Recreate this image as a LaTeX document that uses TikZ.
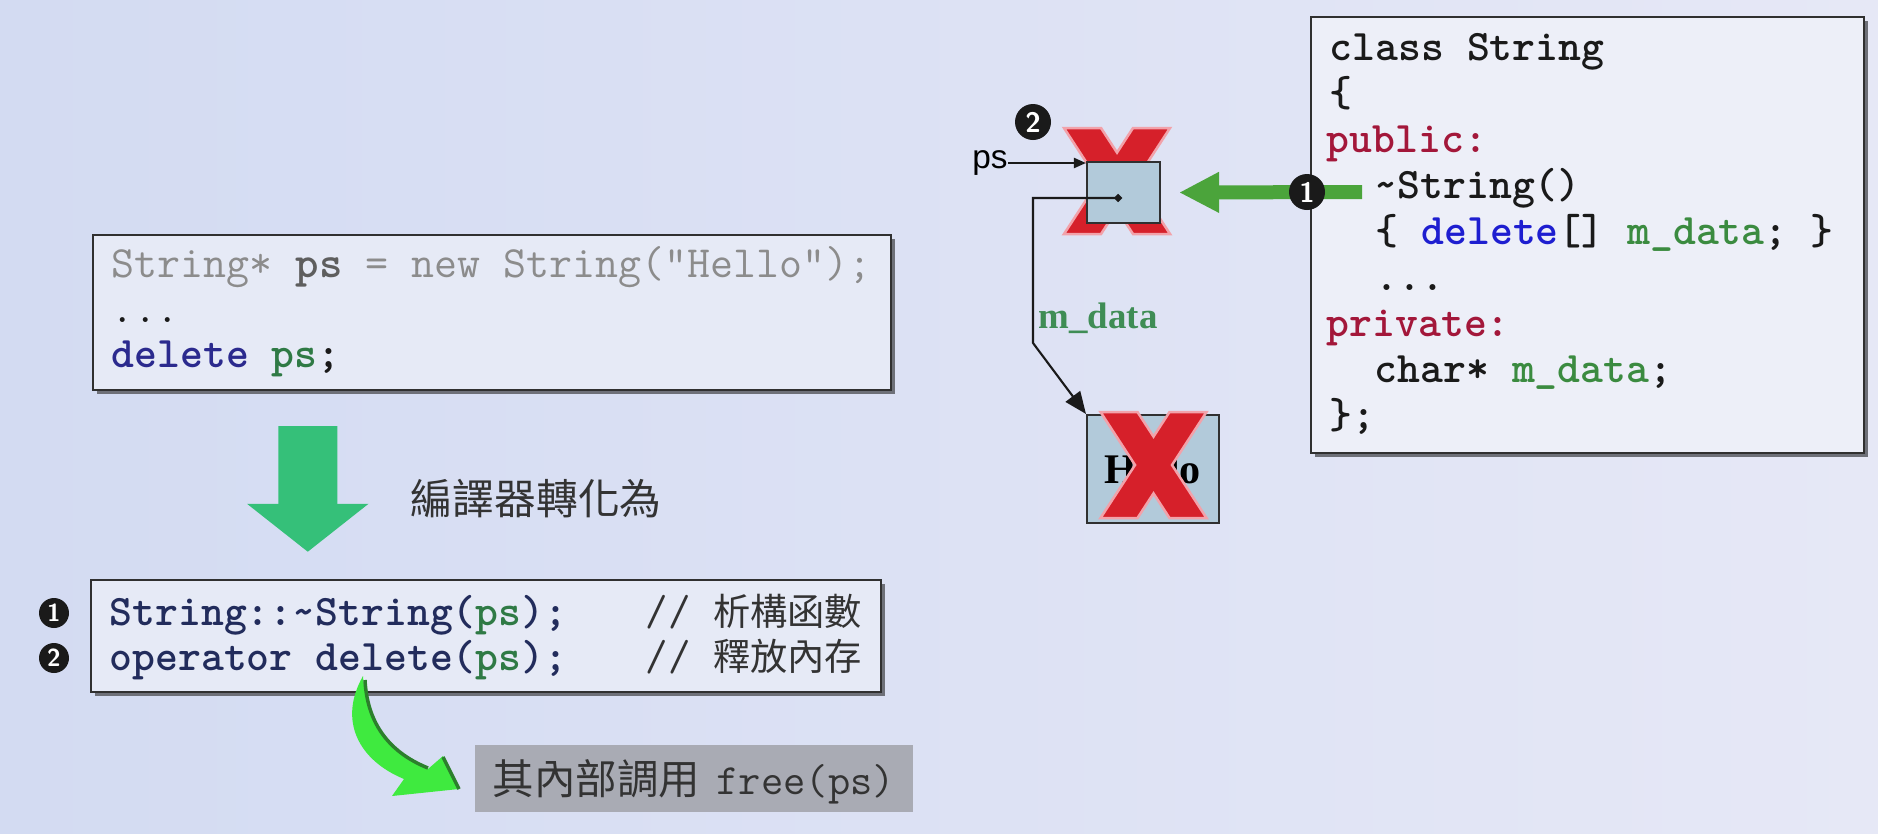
\documentclass[tikz,border=0pt]{standalone}
\usepackage{fontspec}
\usepackage{xcolor}
\usepackage{tikz}
\usetikzlibrary{positioning,arrows.meta,calc,shadows}
\newfontfamily\cjk{Noto Sans CJK TC}
\newfontfamily\timesb{Liberation Serif}
\newfontfamily\arial{Liberation Sans}
\definecolor{bgl}      {HTML}{D3DBF2}
\definecolor{bgm}      {HTML}{E7ECF8}
\definecolor{bgr}      {HTML}{E6E8F6}
\definecolor{boxbg}    {HTML}{E6EAF6}
\definecolor{boxbgr}   {HTML}{EDEFF8}
\definecolor{framec}   {HTML}{303030}
\definecolor{shadowc}  {HTML}{6E7078}
\definecolor{ink}      {HTML}{1A1A1A}
\definecolor{graytxt}  {HTML}{8C8C8C}
\definecolor{graybold} {HTML}{5E5E5E}
\definecolor{kwblue}   {HTML}{2B2A8E}
\definecolor{fnnavy}   {HTML}{222C5C}
\definecolor{codegreen}{HTML}{2F7A45}
\definecolor{crimson}  {HTML}{A3173A}
\definecolor{brblue}   {HTML}{1E1ED0}
\definecolor{mgreen}   {HTML}{3B8B40}
\definecolor{lblgreen} {HTML}{3F8D55}
\definecolor{xred}     {HTML}{D6202A}
\definecolor{xpink}    {HTML}{F2A2AA}
\definecolor{cellblue} {HTML}{B2CADA}
\definecolor{downgreen}{HTML}{35C079}
\definecolor{leftgreen}{HTML}{4BA43B}
\definecolor{swoosh}   {HTML}{3FEA3F}
\definecolor{swooshdk} {HTML}{2C7F2C}
\definecolor{freegray} {HTML}{A9ABB4}
\definecolor{cjkgray}  {HTML}{333333}
\tikzset{
  codebox/.style = {draw=framec, fill=boxbg, line width=0.7pt, inner sep=0pt,
                    drop shadow={shadow xshift=0.4mm, shadow yshift=-0.4mm,
                                 fill=shadowc, opacity=1}},
  code/.style    = {anchor=base west, inner sep=0pt, text=ink,
                    font=\fontsize{12.4}{14}\selectfont\ttfamily},
  codeb/.style   = {code, font=\fontsize{12.4}{14}\selectfont\ttfamily\bfseries},
  cmt/.style     = {code, text=cjkgray},
  num/.style     = {circle, fill=ink, text=white, inner sep=0pt, minimum size=3.0mm,
                    font=\sffamily\bfseries\scriptsize},
  cell/.style    = {draw=framec, fill=cellblue, line width=0.6pt, inner sep=0pt},
  ptr/.style     = {draw=ink, line width=0.6pt, -{Triangle[length=2.2mm, width=1.8mm]}},
  thinptr/.style = {draw=ink, line width=0.6pt, -{Triangle[length=1.2mm, width=1.0mm]}},
  bigdown/.style = {draw=downgreen, line width=5.9mm, -{Triangle[length=4.8mm, width=11.9mm]}},
  grarrow/.style = {draw=leftgreen, line width=1.4mm, -{Triangle[length=4mm, width=3.8mm]}},
  cjklbl/.style  = {anchor=base west, inner sep=0pt, text=cjkgray},
  redx/.pic = {
    \fill[xred, draw=xpink, line width=0.25mm]
      (-53,-53) -- (-16,-53) -- (0,-28.4) -- (16,-53) -- (53,-53) -- (18.5,0)
      -- (53,53) -- (16,53) -- (0,28.4) -- (-16,53) -- (-53,53) -- (-18.5,0) -- cycle;
  },
}

\begin{document}
\begin{tikzpicture}[x=0.1mm, y=-0.1mm]
  \useasboundingbox (0,0) rectangle (1878,833);
  \shade[left color=bgl, middle color=bgm, right color=bgr] (0,0) rectangle (1878,833);

  % source snippet
  \node[codebox, minimum width=79.8mm, minimum height=15.5mm] (src) at (492,312.5) {};
  \node[code, text=graytxt, font=\fontsize{12.7}{14}\selectfont\ttfamily] (src1) at (111,277) {String* {\bfseries\color{graybold}ps} = new String("Hello");};
  \node[code] (src2) at (111,322) {...};
  \node[codeb] (src3) at (111,367) {{\color{kwblue}delete} {\color{codegreen}ps};};

  % what the compiler makes of it
  \node[codebox, minimum width=79.0mm, minimum height=11.2mm] (calls) at (486,636) {};
  \draw[bigdown] ([xshift=21.6mm,yshift=-3.5mm]src.south west) -- ([xshift=21.8mm,yshift=2.7mm]calls.north west);
  \node[cjklbl, font=\cjk\fontsize{11.9}{14}\selectfont] (conv) at (410,514) {編譯器轉化為};
  \node[codeb, text=fnnavy] (call1) at (109,625) {String::\textasciitilde String({\color{codegreen}ps});};
  \node[codeb, text=fnnavy] (call2) at (109,670) {operator delete({\color{codegreen}ps});};
  \node[cmt] (cmt1) at (645,625) {// {\cjk\fontsize{10.6}{13}\selectfont 析構函數}};
  \node[cmt] (cmt2) at (645,670) {// {\cjk\fontsize{10.6}{13}\selectfont 釋放內存}};
  \node[num] (n1) at (54,613) {1};
  \node[num] (n2) at (54,658) {2};

  % free()
  \node[fill=freegray, minimum width=43.8mm, minimum height=6.7mm, inner sep=0pt] (freebox) at (694,778.5) {};
  \node[cjklbl, font=\cjk\fontsize{11.8}{14}\selectfont] (freecjk) at (492,794) {其內部調用};
  \node[code, text=cjkgray, font=\fontsize{12.3}{14}\selectfont\ttfamily] (freecall) at (716,794) {free(ps)};
  \fill[swoosh] (363,676) .. controls (366,720) and (385,752) .. (428,769)
    -- (443,756) -- (459,789) -- (392,796) -- (404,779)
    .. controls (358,760) and (338,720) .. (363,676) -- cycle;
  \draw[swooshdk, line width=0.35mm] (365,680) .. controls (367,720) and (386,751) .. (428,768);
  \draw[swooshdk, line width=0.35mm] (443,757) -- (459,789);

  % class String
  \node[codebox, fill=boxbgr, minimum width=55.3mm, minimum height=43.6mm] (cls) at (1587.5,235) {};
  \node[codeb] (c1) at (1329,60) {class String};
  \node[codeb] (c2) at (1329,106) {\{};
  \node[codeb, text=crimson] (c3) at (1326,152) {public:};
  \node[codeb] (c4) at (1374,198) {\textasciitilde String()};
  \node[codeb] (c5) at (1375,244) {\{ {\color{brblue}delete}[] {\color{mgreen}m\_data}; \}};
  \node[codeb] (c6) at (1375,290) {...};
  \node[codeb, text=crimson] (c7) at (1326,336) {private:};
  \node[codeb] (c8) at (1374,382) {char* {\color{mgreen}m\_data};};
  \node[codeb] (c9) at (1329,428) {\};};

  % heap objects
  \pic at (1117,181) {redx};
  \node[cell, minimum width=7.3mm, minimum height=6.1mm] (psbox) at (1123.5,192.5) {};
  \node[anchor=center, inner sep=0pt, font=\arial\fontsize{9.5}{11}\selectfont] (pslbl) at (990,163) {ps};
  \draw[thinptr] (pslbl.east) -- (pslbl.east -| psbox.west);
  \node[num, minimum size=3.6mm, font=\sffamily\bfseries\footnotesize] (n2b) at (1033,122) {2};
  \node[cell, minimum width=13.2mm, minimum height=10.8mm, font=\timesb\bfseries\fontsize{12}{14}\selectfont] (hello) at (1153,469) {Hello};
  \pic at (1153.5,465) {redx};
  \node[fill=ink, rotate=45, minimum size=0.6mm, inner sep=0pt] (dot) at (1118,198) {};
  \draw[ptr] (dot.center) -- ++(-85,0) -- ++(0,145) -- (hello.north west);
  \node[inner sep=0pt, text=lblgreen, font=\timesb\bfseries\fontsize{10.5}{12}\selectfont] (mlbl) at (1098,318) {m\_data};

  % destructor call
  \coordinate (dtor) at (1362,192);
  \draw[grarrow] (dtor) -- ([xshift=1.8mm]psbox.east);
  \node[num, minimum size=3.6mm, font=\sffamily\bfseries\footnotesize] (n1b) at (1307,192) {1};
\end{tikzpicture}
\end{document}
